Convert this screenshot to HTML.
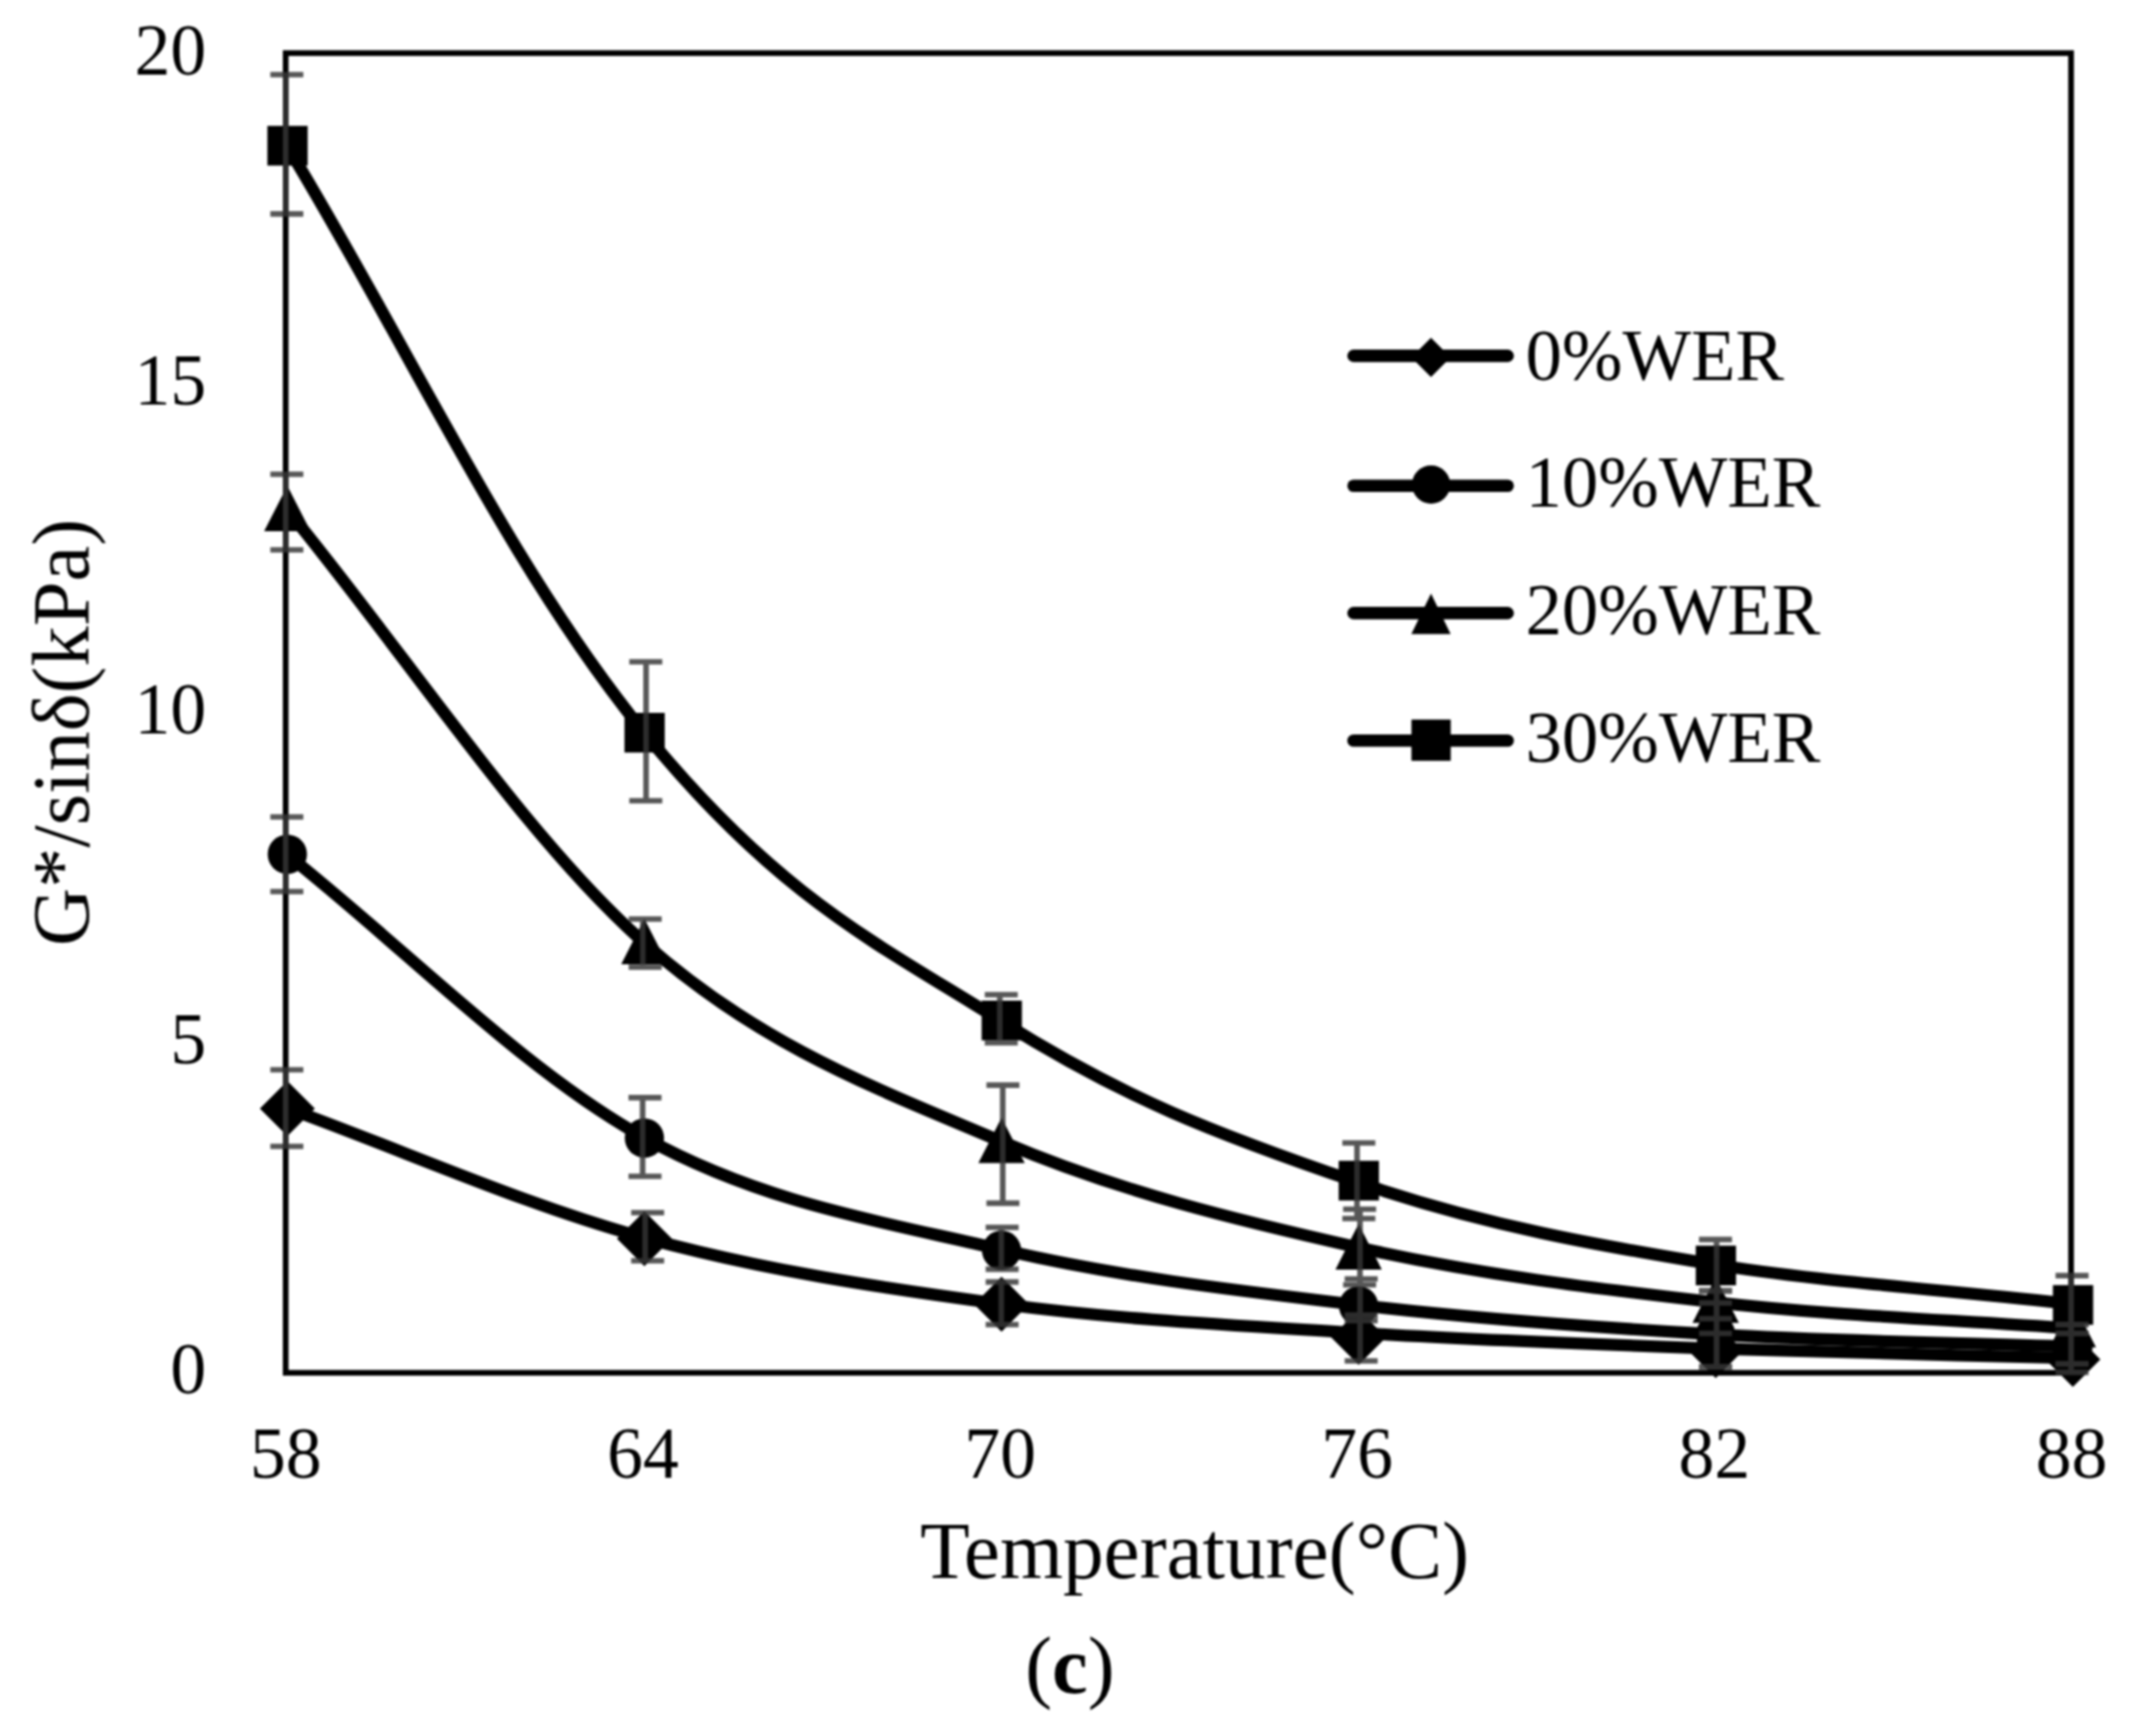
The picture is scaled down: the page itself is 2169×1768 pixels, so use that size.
<!DOCTYPE html>
<html lang="en"><head><meta charset="utf-8"><title>G*/sin delta vs temperature (c)</title>
<style>html,body{margin:0;padding:0;background:#fff}svg{display:block}text{font-family:"Liberation Serif",serif;fill:#000}</style>
</head><body>
<svg width="2169" height="1768" viewBox="0 0 2169 1768">
<rect width="2169" height="1768" fill="#fff"/>
<defs><filter id="soft" x="0" y="0" width="100%" height="100%" filterUnits="userSpaceOnUse" color-interpolation-filters="sRGB"><feGaussianBlur stdDeviation="0.8"/></filter></defs>
<g filter="url(#soft)">
<rect x="290.9" y="54.1" width="1818.1" height="1344" fill="none" stroke="#000" stroke-width="5.8"/>
<g fill="none" stroke="#000" stroke-width="12.3" stroke-linecap="round" stroke-linejoin="round">
<path d="M292.0,1128.5 C413.3,1172.5 534.5,1227.2 655.8,1260.5 C777.0,1293.8 898.3,1311.8 1019.5,1328.0 C1140.7,1344.2 1262.0,1349.9 1383.2,1357.5 C1504.4,1365.1 1625.6,1369.2 1746.8,1373.5 C1868.0,1377.8 1989.2,1380.0 2110.4,1383.2"/>
<path d="M292.0,870.0 C413.3,966.2 534.5,1091.4 655.8,1158.5 C777.0,1225.6 898.3,1244.1 1019.5,1272.5 C1140.7,1300.9 1262.0,1314.6 1383.2,1329.0 C1504.4,1343.4 1625.6,1351.9 1746.8,1359.0 C1868.0,1366.1 1989.2,1367.3 2110.4,1371.5"/>
<path d="M292.0,518.7 C413.3,665.8 534.5,852.7 655.8,960.0 C777.0,1067.3 898.3,1110.8 1019.5,1162.5 C1140.7,1214.2 1262.0,1243.2 1383.2,1270.5 C1504.4,1297.8 1625.6,1312.5 1746.8,1326.3 C1868.0,1340.0 1989.2,1344.1 2110.4,1353.0"/>
<path d="M292.0,148.2 C413.3,347.4 517.6,576.4 655.8,745.8 C794.0,915.2 895.8,962.1 1019.5,1040.0 C1143.2,1117.9 1237.7,1154.7 1383.2,1204.3 C1528.7,1253.9 1659.5,1273.2 1746.8,1288.0 C1834.1,1302.8 1989.2,1314.7 2110.4,1328.0"/>
</g>
<g fill="#000">
<path d="M264.6,1129.0 L292.6,1101.0 L320.6,1129.0 L292.6,1157.0Z"/>
<path d="M628.2,1261.5 L656.2,1233.5 L684.2,1261.5 L656.2,1289.5Z"/>
<path d="M991.9,1328.2 L1019.9,1300.2 L1047.9,1328.2 L1019.9,1356.2Z"/>
<path d="M1355.5,1362.0 L1383.5,1334.0 L1411.5,1362.0 L1383.5,1390.0Z"/>
<path d="M1719.1,1375.5 L1747.1,1347.5 L1775.1,1375.5 L1747.1,1403.5Z"/>
<path d="M2082.8,1384.5 L2110.8,1356.5 L2138.8,1384.5 L2110.8,1412.5Z"/>
<circle cx="292.6" cy="870.0" r="20"/>
<circle cx="656.2" cy="1159.0" r="20"/>
<circle cx="1019.9" cy="1273.3" r="20"/>
<circle cx="1383.5" cy="1330.0" r="20"/>
<circle cx="1747.1" cy="1359.0" r="20"/>
<circle cx="2110.8" cy="1372.0" r="20"/>
<path d="M292.6,494.7 L316.2,541.0 L269.0,541.0Z"/>
<path d="M656.2,935.8 L679.8,982.1 L632.6,982.1Z"/>
<path d="M1019.9,1138.3 L1043.5,1184.6 L996.3,1184.6Z"/>
<path d="M1383.5,1246.6 L1407.1,1292.9 L1359.9,1292.9Z"/>
<path d="M1747.1,1301.0 L1770.7,1347.3 L1723.5,1347.3Z"/>
<path d="M2110.8,1326.0 L2134.4,1372.3 L2087.2,1372.3Z"/>
<rect x="272.3" y="128.2" width="41" height="40.4"/>
<rect x="635.9" y="726.0" width="41" height="40.4"/>
<rect x="999.6" y="1019.1" width="41" height="40.4"/>
<rect x="1363.2" y="1182.2" width="41" height="40.4"/>
<rect x="1726.8" y="1268.6" width="41" height="40.4"/>
<rect x="2090.5" y="1308.8" width="41" height="40.4"/>
</g>
<g opacity="0.83" stroke="#363636" stroke-width="5.7" fill="none">
<path d="M290.9,76.0 V217.9 M275.3,76.0 H308.9 M275.3,217.9 H308.9"/>
<path d="M290.9,483.0 V560.0 M275.3,483.0 H308.9 M275.3,560.0 H308.9"/>
<path d="M290.9,832.0 V908.0 M275.3,832.0 H308.9 M275.3,908.0 H308.9"/>
<path d="M290.9,1089.5 V1167.5 M275.3,1089.5 H308.9 M275.3,1167.5 H308.9"/>
<path d="M657.9,674.0 V815.5 M640.8,674.0 H674.4 M640.8,815.5 H674.4"/>
<path d="M654.6,936.0 V985.0 M640.2,936.0 H673.8 M640.2,985.0 H673.8"/>
<path d="M654.4,1117.8 V1198.0 M640.0,1117.8 H673.6 M640.0,1198.0 H673.6"/>
<path d="M657.0,1235.0 V1284.0 M642.7,1235.0 H676.3 M642.7,1284.0 H676.3"/>
<path d="M1018.1,1013.0 V1062.0 M1002.8,1013.0 H1036.4 M1002.8,1062.0 H1036.4"/>
<path d="M1021.1,1105.2 V1225.3 M1004.5,1105.2 H1038.1 M1004.5,1225.3 H1038.1"/>
<path d="M1019.6,1250.0 V1292.7 M1003.7,1250.0 H1037.3 M1003.7,1292.7 H1037.3"/>
<path d="M1019.6,1305.6 V1349.0 M1003.7,1305.6 H1037.3 M1003.7,1349.0 H1037.3"/>
<path d="M1381.9,1164.0 V1241.0 M1366.9,1164.0 H1400.5 M1366.9,1241.0 H1400.5"/>
<path d="M1384.9,1231.5 V1308.5 M1367.7,1231.5 H1401.3 M1367.7,1308.5 H1401.3"/>
<path d="M1385.0,1302.5 V1345.0 M1369.3,1302.5 H1402.9 M1369.3,1345.0 H1402.9"/>
<path d="M1385.0,1339.4 V1386.0 M1369.3,1339.4 H1402.9 M1369.3,1386.0 H1402.9"/>
<path d="M1748.0,1262.3 V1314.7 M1730.1,1262.3 H1763.7 M1730.1,1314.7 H1763.7"/>
<path d="M1748.0,1314.7 V1343.0 M1730.1,1314.7 H1763.7 M1730.1,1343.0 H1763.7"/>
<path d="M1748.0,1327.0 V1392.0 M1730.1,1327.0 H1763.7 M1730.1,1392.0 H1763.7"/>
<path d="M1748.0,1358.0 V1392.0 M1730.1,1358.0 H1763.7 M1730.1,1392.0 H1763.7"/>
<path d="M2109.0,1299.2 V1358.0 M2093.2,1299.2 H2126.8 M2093.2,1358.0 H2126.8"/>
<path d="M2109.0,1349.0 V1358.0 M2093.2,1349.0 H2126.8 M2093.2,1358.0 H2126.8"/>
<path d="M2109.0,1349.0 V1389.0 M2093.2,1349.0 H2126.8 M2093.2,1389.0 H2126.8"/>
<path d="M2109.0,1389.0 V1397.7 M2093.2,1389.0 H2126.8 M2093.2,1397.7 H2126.8"/>
</g>
<g font-size="73" text-anchor="end">
<text x="210" y="75.5">20</text>
<text x="210" y="411.5">15</text>
<text x="210" y="747.3">10</text>
<text x="210" y="1083.3">5</text>
<text x="210" y="1419.2">0</text>
</g>
<g font-size="73" text-anchor="middle">
<text x="291" y="1505.3">58</text>
<text x="654.7" y="1505.3">64</text>
<text x="1018.4" y="1505.3">70</text>
<text x="1382" y="1505.3">76</text>
<text x="1745.8" y="1505.3">82</text>
<text x="2109.5" y="1505.3">88</text>
</g>
<text x="1216.5" y="1607" font-size="82.6" text-anchor="middle">Temperature(°C)</text>
<text transform="translate(89.9,746) rotate(-90)" font-size="82" text-anchor="middle">G*/sinδ(kPa)</text>
<text x="1089.5" y="1723.5" font-size="82" text-anchor="middle">(<tspan font-weight="bold">c</tspan>)</text>
<g stroke="#000" stroke-width="12.6" stroke-linecap="round">
<path d="M1378.3,362.4 H1535.3"/>
<path d="M1378.3,494.7 H1535.3"/>
<path d="M1378.3,624.4 H1535.3"/>
<path d="M1378.3,754.2 H1535.3"/>
</g>
<g fill="#000">
<path d="M1437.2,364 L1457.2,344 L1477.2,364 L1457.2,384Z"/>
<circle cx="1457.3" cy="493.5" r="19.5"/>
<path d="M1457.2,604.5 L1477.2,645.8 L1437.2,645.8Z"/>
<rect x="1437.3" y="732.8" width="40" height="42"/>
</g>
<g font-size="74">
<text x="1553.5" y="386.9">0%WER</text>
<text x="1553.5" y="516.2">10%WER</text>
<text x="1553.5" y="645.9">20%WER</text>
<text x="1553.5" y="775.6">30%WER</text>
</g>
</g>
</svg>
</body></html>
